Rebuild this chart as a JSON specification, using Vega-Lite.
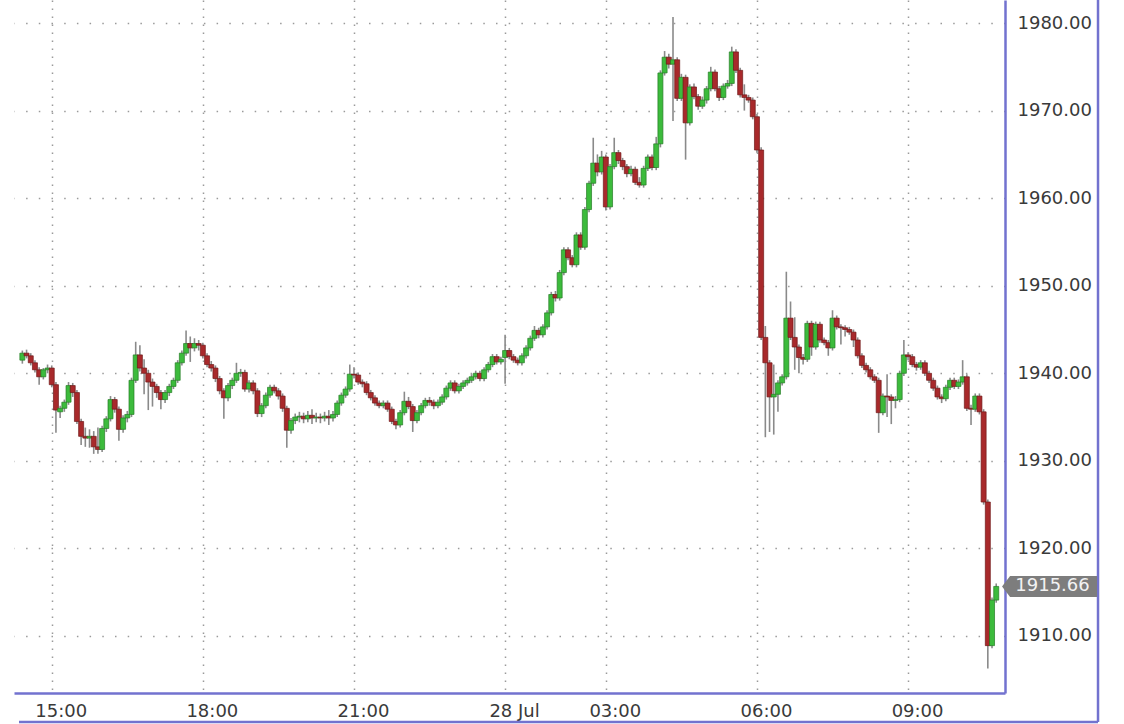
{
  "$schema": "https://vega.github.io/schema/vega-lite/v6.json",
  "width": 991,
  "height": 693,
  "autosize": {"type": "none"},
  "padding": {"left": 14, "top": 0, "right": 119, "bottom": 31},
  "background": "white",
  "config": {
    "view": {"stroke": null},
    "axis": {"labelFont": "DejaVu Sans", "labelFontSize": 18, "labelColor": "#3a3a3a", "title": null}
  },
  "data": {"values": [
    {"i":-7,"t":"14:25","o":1941.5,"h":1942.6,"l":1941.1,"c":1942.3},
    {"i":-6,"t":"14:30","o":1942.3,"h":1942.7,"l":1941.7,"c":1942.0},
    {"i":-5,"t":"14:35","o":1942.0,"h":1942.3,"l":1940.9,"c":1941.2},
    {"i":-4,"t":"14:40","o":1941.2,"h":1941.5,"l":1940.1,"c":1940.4},
    {"i":-3,"t":"14:45","o":1940.4,"h":1940.7,"l":1938.7,"c":1939.6},
    {"i":-2,"t":"14:50","o":1939.6,"h":1940.6,"l":1939.3,"c":1940.4},
    {"i":-1,"t":"14:55","o":1940.4,"h":1941.0,"l":1940.0,"c":1940.6},
    {"i":0,"t":"15:00","o":1940.6,"h":1940.9,"l":1938.4,"c":1938.7},
    {"i":1,"t":"15:05","o":1938.7,"h":1939.0,"l":1933.2,"c":1935.8},
    {"i":2,"t":"15:10","o":1935.6,"h":1936.3,"l":1934.9,"c":1936.0},
    {"i":3,"t":"15:15","o":1936.0,"h":1937.0,"l":1935.6,"c":1936.7},
    {"i":4,"t":"15:20","o":1936.7,"h":1939.0,"l":1936.4,"c":1938.6},
    {"i":5,"t":"15:25","o":1938.6,"h":1938.9,"l":1937.3,"c":1937.8},
    {"i":6,"t":"15:30","o":1937.8,"h":1938.1,"l":1934.2,"c":1934.5},
    {"i":7,"t":"15:35","o":1934.5,"h":1934.8,"l":1931.8,"c":1932.8},
    {"i":8,"t":"15:40","o":1932.8,"h":1933.8,"l":1931.6,"c":1932.6},
    {"i":9,"t":"15:45","o":1932.6,"h":1933.6,"l":1931.5,"c":1932.8},
    {"i":10,"t":"15:50","o":1932.8,"h":1933.4,"l":1930.8,"c":1931.6},
    {"i":11,"t":"15:55","o":1931.6,"h":1933.8,"l":1930.8,"c":1931.3},
    {"i":12,"t":"16:00","o":1931.3,"h":1934.0,"l":1931.0,"c":1933.7},
    {"i":13,"t":"16:05","o":1933.7,"h":1935.1,"l":1933.3,"c":1934.8},
    {"i":14,"t":"16:10","o":1934.8,"h":1937.4,"l":1934.5,"c":1937.0},
    {"i":15,"t":"16:15","o":1937.0,"h":1937.3,"l":1935.5,"c":1935.9},
    {"i":16,"t":"16:20","o":1935.9,"h":1936.2,"l":1932.3,"c":1933.6},
    {"i":17,"t":"16:25","o":1933.6,"h":1935.2,"l":1933.2,"c":1934.9},
    {"i":18,"t":"16:30","o":1934.9,"h":1935.7,"l":1934.4,"c":1935.3},
    {"i":19,"t":"16:35","o":1935.3,"h":1939.5,"l":1935.0,"c":1939.2},
    {"i":20,"t":"16:40","o":1939.2,"h":1943.6,"l":1938.9,"c":1942.1},
    {"i":21,"t":"16:45","o":1942.1,"h":1943.2,"l":1940.2,"c":1940.6},
    {"i":22,"t":"16:50","o":1940.6,"h":1941.6,"l":1937.6,"c":1940.0},
    {"i":23,"t":"16:55","o":1940.0,"h":1940.4,"l":1935.8,"c":1939.0},
    {"i":24,"t":"17:00","o":1939.0,"h":1939.4,"l":1936.2,"c":1938.5},
    {"i":25,"t":"17:05","o":1938.5,"h":1938.8,"l":1937.2,"c":1937.8},
    {"i":26,"t":"17:10","o":1937.8,"h":1938.1,"l":1935.9,"c":1937.0},
    {"i":27,"t":"17:15","o":1937.0,"h":1938.1,"l":1936.6,"c":1937.8},
    {"i":28,"t":"17:20","o":1937.8,"h":1938.8,"l":1937.4,"c":1938.5},
    {"i":29,"t":"17:25","o":1938.5,"h":1939.5,"l":1938.2,"c":1939.2},
    {"i":30,"t":"17:30","o":1939.2,"h":1941.5,"l":1938.9,"c":1941.2},
    {"i":31,"t":"17:35","o":1941.2,"h":1942.6,"l":1940.9,"c":1942.3},
    {"i":32,"t":"17:40","o":1942.3,"h":1944.9,"l":1942.0,"c":1943.4},
    {"i":33,"t":"17:45","o":1943.4,"h":1944.2,"l":1941.3,"c":1942.9},
    {"i":34,"t":"17:50","o":1942.9,"h":1944.0,"l":1942.5,"c":1943.4},
    {"i":35,"t":"17:55","o":1943.4,"h":1943.8,"l":1942.6,"c":1943.2},
    {"i":36,"t":"18:00","o":1943.2,"h":1943.5,"l":1941.7,"c":1942.0},
    {"i":37,"t":"18:05","o":1942.0,"h":1942.3,"l":1940.7,"c":1941.0},
    {"i":38,"t":"18:10","o":1941.0,"h":1941.4,"l":1940.2,"c":1940.6},
    {"i":39,"t":"18:15","o":1940.6,"h":1940.9,"l":1939.0,"c":1939.4},
    {"i":40,"t":"18:20","o":1939.4,"h":1939.7,"l":1937.6,"c":1938.0},
    {"i":41,"t":"18:25","o":1938.0,"h":1938.3,"l":1934.8,"c":1937.2},
    {"i":42,"t":"18:30","o":1937.2,"h":1938.9,"l":1936.8,"c":1938.6},
    {"i":43,"t":"18:35","o":1938.6,"h":1939.5,"l":1938.2,"c":1939.2},
    {"i":44,"t":"18:40","o":1939.2,"h":1941.2,"l":1938.9,"c":1940.0},
    {"i":45,"t":"18:45","o":1940.0,"h":1940.5,"l":1939.6,"c":1940.1},
    {"i":46,"t":"18:50","o":1940.1,"h":1940.4,"l":1937.9,"c":1938.2},
    {"i":47,"t":"18:55","o":1938.2,"h":1939.2,"l":1937.8,"c":1938.9},
    {"i":48,"t":"19:00","o":1938.9,"h":1939.2,"l":1937.6,"c":1938.0},
    {"i":49,"t":"19:05","o":1938.0,"h":1938.3,"l":1935.0,"c":1935.4},
    {"i":50,"t":"19:10","o":1935.4,"h":1936.6,"l":1935.0,"c":1936.3},
    {"i":51,"t":"19:15","o":1936.3,"h":1937.8,"l":1936.0,"c":1937.5},
    {"i":52,"t":"19:20","o":1937.5,"h":1938.7,"l":1937.2,"c":1938.4},
    {"i":53,"t":"19:25","o":1938.4,"h":1938.7,"l":1937.7,"c":1938.0},
    {"i":54,"t":"19:30","o":1938.0,"h":1938.3,"l":1937.0,"c":1937.4},
    {"i":55,"t":"19:35","o":1937.4,"h":1937.7,"l":1935.6,"c":1936.0},
    {"i":56,"t":"19:40","o":1936.0,"h":1936.3,"l":1931.5,"c":1933.5},
    {"i":57,"t":"19:45","o":1933.5,"h":1934.9,"l":1933.1,"c":1934.6},
    {"i":58,"t":"19:50","o":1934.6,"h":1935.4,"l":1934.2,"c":1935.0},
    {"i":59,"t":"19:55","o":1935.0,"h":1935.6,"l":1934.4,"c":1935.1},
    {"i":60,"t":"20:00","o":1935.1,"h":1935.5,"l":1934.3,"c":1934.8},
    {"i":61,"t":"20:05","o":1934.8,"h":1935.7,"l":1934.4,"c":1935.2},
    {"i":62,"t":"20:10","o":1935.2,"h":1935.9,"l":1934.2,"c":1934.9},
    {"i":63,"t":"20:15","o":1934.9,"h":1935.5,"l":1934.4,"c":1935.0},
    {"i":64,"t":"20:20","o":1935.0,"h":1935.4,"l":1934.3,"c":1934.9},
    {"i":65,"t":"20:25","o":1934.9,"h":1935.6,"l":1934.5,"c":1935.1},
    {"i":66,"t":"20:30","o":1935.1,"h":1935.8,"l":1934.1,"c":1934.9},
    {"i":67,"t":"20:35","o":1934.9,"h":1935.7,"l":1934.5,"c":1935.3},
    {"i":68,"t":"20:40","o":1935.3,"h":1936.9,"l":1935.0,"c":1936.6},
    {"i":69,"t":"20:45","o":1936.6,"h":1937.8,"l":1936.3,"c":1937.5},
    {"i":70,"t":"20:50","o":1937.5,"h":1938.5,"l":1937.2,"c":1938.2},
    {"i":71,"t":"20:55","o":1938.2,"h":1941.0,"l":1937.9,"c":1939.9},
    {"i":72,"t":"21:00","o":1939.9,"h":1940.7,"l":1939.4,"c":1939.8},
    {"i":73,"t":"21:05","o":1939.8,"h":1940.1,"l":1938.7,"c":1939.0},
    {"i":74,"t":"21:10","o":1939.0,"h":1939.3,"l":1938.4,"c":1938.8},
    {"i":75,"t":"21:15","o":1938.8,"h":1939.1,"l":1937.5,"c":1937.8},
    {"i":76,"t":"21:20","o":1937.8,"h":1938.1,"l":1936.9,"c":1937.2},
    {"i":77,"t":"21:25","o":1937.2,"h":1937.5,"l":1936.3,"c":1936.6},
    {"i":78,"t":"21:30","o":1936.6,"h":1936.9,"l":1936.0,"c":1936.3},
    {"i":79,"t":"21:35","o":1936.3,"h":1936.9,"l":1936.0,"c":1936.6},
    {"i":80,"t":"21:40","o":1936.6,"h":1936.9,"l":1935.6,"c":1935.9},
    {"i":81,"t":"21:45","o":1935.9,"h":1936.2,"l":1934.2,"c":1934.5},
    {"i":82,"t":"21:50","o":1934.5,"h":1934.8,"l":1933.6,"c":1934.1},
    {"i":83,"t":"21:55","o":1934.1,"h":1935.8,"l":1933.8,"c":1935.5},
    {"i":84,"t":"22:00","o":1935.5,"h":1937.9,"l":1935.2,"c":1936.8},
    {"i":85,"t":"22:05","o":1936.8,"h":1937.3,"l":1935.9,"c":1936.2},
    {"i":86,"t":"22:10","o":1936.2,"h":1936.5,"l":1933.3,"c":1934.6},
    {"i":87,"t":"22:15","o":1934.6,"h":1935.8,"l":1934.3,"c":1935.5},
    {"i":88,"t":"22:20","o":1935.5,"h":1936.6,"l":1935.2,"c":1936.3},
    {"i":89,"t":"22:25","o":1936.3,"h":1937.2,"l":1936.0,"c":1936.9},
    {"i":90,"t":"22:30","o":1936.9,"h":1937.3,"l":1936.3,"c":1936.7},
    {"i":91,"t":"22:35","o":1936.7,"h":1937.0,"l":1935.9,"c":1936.3},
    {"i":92,"t":"22:40","o":1936.3,"h":1937.0,"l":1936.0,"c":1936.7},
    {"i":93,"t":"22:45","o":1936.7,"h":1937.6,"l":1936.4,"c":1937.3},
    {"i":94,"t":"22:50","o":1937.3,"h":1938.6,"l":1937.0,"c":1938.3},
    {"i":95,"t":"22:55","o":1938.3,"h":1939.2,"l":1938.0,"c":1938.9},
    {"i":96,"t":"23:00","o":1938.9,"h":1939.2,"l":1937.7,"c":1938.0},
    {"i":97,"t":"23:05","o":1938.0,"h":1938.8,"l":1937.7,"c":1938.5},
    {"i":98,"t":"23:10","o":1938.5,"h":1939.2,"l":1938.2,"c":1938.9},
    {"i":99,"t":"23:15","o":1938.9,"h":1939.5,"l":1938.6,"c":1939.2},
    {"i":100,"t":"23:20","o":1939.2,"h":1939.9,"l":1938.9,"c":1939.6},
    {"i":101,"t":"23:25","o":1939.6,"h":1940.3,"l":1939.3,"c":1940.0},
    {"i":102,"t":"23:30","o":1940.0,"h":1940.3,"l":1939.1,"c":1939.4},
    {"i":103,"t":"23:35","o":1939.4,"h":1940.7,"l":1939.1,"c":1940.4},
    {"i":104,"t":"23:40","o":1940.4,"h":1941.3,"l":1940.1,"c":1941.0},
    {"i":105,"t":"23:45","o":1941.0,"h":1942.2,"l":1940.7,"c":1941.9},
    {"i":106,"t":"23:50","o":1941.9,"h":1942.2,"l":1941.0,"c":1941.3},
    {"i":107,"t":"23:55","o":1941.3,"h":1941.9,"l":1941.0,"c":1941.6},
    {"i":108,"t":"01:00","o":1941.8,"h":1944.4,"l":1938.8,"c":1942.6},
    {"i":109,"t":"01:05","o":1942.6,"h":1942.9,"l":1941.6,"c":1941.9},
    {"i":110,"t":"01:10","o":1941.9,"h":1942.2,"l":1941.2,"c":1941.5},
    {"i":111,"t":"01:15","o":1941.5,"h":1941.8,"l":1940.9,"c":1941.2},
    {"i":112,"t":"01:20","o":1941.2,"h":1942.3,"l":1940.9,"c":1942.0},
    {"i":113,"t":"01:25","o":1942.0,"h":1943.2,"l":1941.7,"c":1942.9},
    {"i":114,"t":"01:30","o":1942.9,"h":1944.3,"l":1942.6,"c":1944.0},
    {"i":115,"t":"01:35","o":1944.0,"h":1945.4,"l":1943.7,"c":1944.9},
    {"i":116,"t":"01:40","o":1944.9,"h":1945.2,"l":1944.0,"c":1944.4},
    {"i":117,"t":"01:45","o":1944.4,"h":1945.6,"l":1944.1,"c":1945.3},
    {"i":118,"t":"01:50","o":1945.3,"h":1947.2,"l":1945.0,"c":1946.9},
    {"i":119,"t":"01:55","o":1946.9,"h":1949.3,"l":1946.6,"c":1949.0},
    {"i":120,"t":"02:00","o":1949.0,"h":1949.4,"l":1948.2,"c":1948.6},
    {"i":121,"t":"02:05","o":1948.6,"h":1951.8,"l":1948.3,"c":1951.5},
    {"i":122,"t":"02:10","o":1951.5,"h":1954.4,"l":1951.2,"c":1954.1},
    {"i":123,"t":"02:15","o":1954.1,"h":1954.4,"l":1952.9,"c":1953.2},
    {"i":124,"t":"02:20","o":1953.2,"h":1953.5,"l":1952.1,"c":1952.4},
    {"i":125,"t":"02:25","o":1952.4,"h":1956.1,"l":1952.1,"c":1955.8},
    {"i":126,"t":"02:30","o":1955.8,"h":1956.1,"l":1954.1,"c":1954.4},
    {"i":127,"t":"02:35","o":1954.4,"h":1959.0,"l":1954.1,"c":1958.7},
    {"i":128,"t":"02:40","o":1958.7,"h":1962.0,"l":1958.4,"c":1961.7},
    {"i":129,"t":"02:45","o":1961.7,"h":1966.9,"l":1961.4,"c":1964.0},
    {"i":130,"t":"02:50","o":1964.0,"h":1965.0,"l":1962.5,"c":1963.0},
    {"i":131,"t":"02:55","o":1963.0,"h":1965.4,"l":1962.7,"c":1964.7},
    {"i":132,"t":"03:00","o":1964.7,"h":1965.0,"l":1958.6,"c":1959.0},
    {"i":133,"t":"03:05","o":1959.0,"h":1963.9,"l":1958.7,"c":1963.6},
    {"i":134,"t":"03:10","o":1963.6,"h":1966.9,"l":1963.3,"c":1965.2},
    {"i":135,"t":"03:15","o":1965.2,"h":1965.5,"l":1963.9,"c":1964.3},
    {"i":136,"t":"03:20","o":1964.3,"h":1964.6,"l":1963.2,"c":1963.6},
    {"i":137,"t":"03:25","o":1963.6,"h":1963.9,"l":1962.4,"c":1962.8},
    {"i":138,"t":"03:30","o":1962.8,"h":1963.7,"l":1962.5,"c":1963.3},
    {"i":139,"t":"03:35","o":1963.3,"h":1963.6,"l":1961.5,"c":1961.8},
    {"i":140,"t":"03:40","o":1961.8,"h":1962.4,"l":1961.2,"c":1961.5},
    {"i":141,"t":"03:45","o":1961.5,"h":1963.7,"l":1961.2,"c":1963.4},
    {"i":142,"t":"03:50","o":1963.4,"h":1965.0,"l":1963.1,"c":1964.7},
    {"i":143,"t":"03:55","o":1964.7,"h":1965.0,"l":1963.2,"c":1963.5},
    {"i":144,"t":"04:00","o":1963.5,"h":1967.0,"l":1963.2,"c":1966.2},
    {"i":145,"t":"04:05","o":1966.2,"h":1974.6,"l":1965.8,"c":1974.3},
    {"i":146,"t":"04:10","o":1974.3,"h":1976.8,"l":1974.0,"c":1976.1},
    {"i":147,"t":"04:15","o":1976.1,"h":1976.5,"l":1974.8,"c":1975.3},
    {"i":148,"t":"04:20","o":1975.3,"h":1980.7,"l":1968.8,"c":1975.8},
    {"i":149,"t":"04:25","o":1975.8,"h":1976.1,"l":1971.1,"c":1971.4},
    {"i":150,"t":"04:30","o":1971.4,"h":1974.2,"l":1971.1,"c":1973.8},
    {"i":151,"t":"04:35","o":1973.8,"h":1974.1,"l":1964.4,"c":1968.6},
    {"i":152,"t":"04:40","o":1968.6,"h":1973.0,"l":1968.3,"c":1972.7},
    {"i":153,"t":"04:45","o":1972.7,"h":1973.1,"l":1971.3,"c":1971.6},
    {"i":154,"t":"04:50","o":1971.6,"h":1971.9,"l":1970.1,"c":1970.5},
    {"i":155,"t":"04:55","o":1970.5,"h":1971.6,"l":1970.2,"c":1971.2},
    {"i":156,"t":"05:00","o":1971.2,"h":1972.8,"l":1970.8,"c":1972.5},
    {"i":157,"t":"05:05","o":1972.5,"h":1975.0,"l":1972.2,"c":1974.4},
    {"i":158,"t":"05:10","o":1974.4,"h":1974.7,"l":1972.2,"c":1972.5},
    {"i":159,"t":"05:15","o":1972.5,"h":1972.8,"l":1971.1,"c":1971.5},
    {"i":160,"t":"05:20","o":1971.5,"h":1973.1,"l":1971.2,"c":1972.8},
    {"i":161,"t":"05:25","o":1972.8,"h":1973.5,"l":1972.5,"c":1973.1},
    {"i":162,"t":"05:30","o":1973.1,"h":1977.3,"l":1972.8,"c":1976.7},
    {"i":163,"t":"05:35","o":1976.7,"h":1977.0,"l":1974.3,"c":1974.6},
    {"i":164,"t":"05:40","o":1974.6,"h":1974.9,"l":1971.5,"c":1971.8},
    {"i":165,"t":"05:45","o":1971.8,"h":1973.0,"l":1970.0,"c":1971.5},
    {"i":166,"t":"05:50","o":1971.5,"h":1971.8,"l":1970.9,"c":1971.2},
    {"i":167,"t":"05:55","o":1971.2,"h":1971.5,"l":1969.0,"c":1969.3},
    {"i":168,"t":"06:00","o":1969.3,"h":1969.6,"l":1965.2,"c":1965.5},
    {"i":169,"t":"06:05","o":1965.5,"h":1965.8,"l":1943.8,"c":1944.1},
    {"i":170,"t":"06:10","o":1944.1,"h":1945.4,"l":1932.7,"c":1941.2},
    {"i":171,"t":"06:15","o":1941.2,"h":1941.5,"l":1933.3,"c":1937.3},
    {"i":172,"t":"06:20","o":1937.3,"h":1941.0,"l":1933.0,"c":1937.6},
    {"i":173,"t":"06:25","o":1937.6,"h":1939.2,"l":1935.6,"c":1938.9},
    {"i":174,"t":"06:30","o":1938.9,"h":1939.9,"l":1938.6,"c":1939.6},
    {"i":175,"t":"06:35","o":1939.6,"h":1951.6,"l":1939.3,"c":1946.3},
    {"i":176,"t":"06:40","o":1946.3,"h":1948.2,"l":1943.8,"c":1944.1},
    {"i":177,"t":"06:45","o":1944.1,"h":1946.4,"l":1940.4,"c":1943.0},
    {"i":178,"t":"06:50","o":1943.0,"h":1943.3,"l":1940.0,"c":1941.8},
    {"i":179,"t":"06:55","o":1941.8,"h":1942.2,"l":1941.0,"c":1941.6},
    {"i":180,"t":"07:00","o":1941.6,"h":1946.0,"l":1941.3,"c":1945.7},
    {"i":181,"t":"07:05","o":1945.7,"h":1946.0,"l":1942.0,"c":1943.0},
    {"i":182,"t":"07:10","o":1943.0,"h":1945.9,"l":1942.7,"c":1945.6},
    {"i":183,"t":"07:15","o":1945.6,"h":1945.9,"l":1943.5,"c":1943.8},
    {"i":184,"t":"07:20","o":1943.8,"h":1944.1,"l":1943.2,"c":1943.5},
    {"i":185,"t":"07:25","o":1943.5,"h":1943.8,"l":1942.0,"c":1942.9},
    {"i":186,"t":"07:30","o":1942.9,"h":1947.2,"l":1942.6,"c":1946.3},
    {"i":187,"t":"07:35","o":1946.3,"h":1946.6,"l":1945.0,"c":1945.3},
    {"i":188,"t":"07:40","o":1945.3,"h":1945.6,"l":1943.3,"c":1945.2},
    {"i":189,"t":"07:45","o":1945.2,"h":1945.5,"l":1944.2,"c":1945.0},
    {"i":190,"t":"07:50","o":1945.0,"h":1945.3,"l":1944.4,"c":1944.7},
    {"i":191,"t":"07:55","o":1944.7,"h":1945.0,"l":1943.0,"c":1943.8},
    {"i":192,"t":"08:00","o":1943.8,"h":1944.1,"l":1941.7,"c":1942.0},
    {"i":193,"t":"08:05","o":1942.0,"h":1942.3,"l":1940.6,"c":1940.9},
    {"i":194,"t":"08:10","o":1940.9,"h":1941.2,"l":1940.1,"c":1940.4},
    {"i":195,"t":"08:15","o":1940.4,"h":1940.7,"l":1939.3,"c":1939.6},
    {"i":196,"t":"08:20","o":1939.6,"h":1939.9,"l":1938.9,"c":1939.2},
    {"i":197,"t":"08:25","o":1939.2,"h":1939.5,"l":1933.2,"c":1935.5},
    {"i":198,"t":"08:30","o":1935.5,"h":1937.7,"l":1935.2,"c":1937.4},
    {"i":199,"t":"08:35","o":1937.4,"h":1939.9,"l":1935.0,"c":1937.3},
    {"i":200,"t":"08:40","o":1937.3,"h":1937.6,"l":1934.2,"c":1936.9},
    {"i":201,"t":"08:45","o":1936.9,"h":1937.4,"l":1936.0,"c":1937.0},
    {"i":202,"t":"08:50","o":1937.0,"h":1940.3,"l":1936.7,"c":1940.0},
    {"i":203,"t":"08:55","o":1940.0,"h":1943.8,"l":1939.7,"c":1942.1},
    {"i":204,"t":"09:00","o":1942.1,"h":1942.4,"l":1941.5,"c":1941.9},
    {"i":205,"t":"09:05","o":1941.9,"h":1942.2,"l":1940.7,"c":1941.0},
    {"i":206,"t":"09:10","o":1941.0,"h":1941.3,"l":1940.3,"c":1940.7},
    {"i":207,"t":"09:15","o":1940.7,"h":1941.5,"l":1940.4,"c":1941.2},
    {"i":208,"t":"09:20","o":1941.2,"h":1941.5,"l":1939.7,"c":1940.0},
    {"i":209,"t":"09:25","o":1940.0,"h":1940.3,"l":1938.9,"c":1939.2},
    {"i":210,"t":"09:30","o":1939.2,"h":1939.5,"l":1938.0,"c":1938.3},
    {"i":211,"t":"09:35","o":1938.3,"h":1938.6,"l":1937.0,"c":1937.3},
    {"i":212,"t":"09:40","o":1937.3,"h":1937.6,"l":1936.6,"c":1937.1},
    {"i":213,"t":"09:45","o":1937.1,"h":1938.7,"l":1936.8,"c":1938.4},
    {"i":214,"t":"09:50","o":1938.4,"h":1939.5,"l":1938.1,"c":1939.2},
    {"i":215,"t":"09:55","o":1939.2,"h":1939.5,"l":1938.2,"c":1938.5},
    {"i":216,"t":"10:00","o":1938.5,"h":1939.3,"l":1938.2,"c":1939.0},
    {"i":217,"t":"10:05","o":1939.0,"h":1941.5,"l":1938.7,"c":1939.6},
    {"i":218,"t":"10:10","o":1939.6,"h":1939.9,"l":1935.7,"c":1936.0},
    {"i":219,"t":"10:15","o":1936.0,"h":1936.4,"l":1934.1,"c":1935.9},
    {"i":220,"t":"10:20","o":1935.9,"h":1937.7,"l":1935.6,"c":1937.4},
    {"i":221,"t":"10:25","o":1937.4,"h":1937.7,"l":1935.3,"c":1935.6},
    {"i":222,"t":"10:30","o":1935.6,"h":1935.9,"l":1925.0,"c":1925.3},
    {"i":223,"t":"10:35","o":1925.3,"h":1925.6,"l":1906.3,"c":1908.9},
    {"i":224,"t":"10:40","o":1908.9,"h":1914.4,"l":1908.6,"c":1914.1},
    {"i":225,"t":"10:45","o":1914.1,"h":1916.0,"l":1913.8,"c":1915.66}
  ]},
  "layer": [
    {
      "mark": {"type": "rule", "color": "#8a8a8a", "strokeWidth": 1.6},
      "encoding": {
        "x": {
          "field": "i",
          "type": "quantitative",
          "scale": {"domain": [-7.8, 225.9], "nice": false, "zero": false},
          "axis": {
            "orient": "bottom",
            "values": [0, 36, 72, 108, 132, 168, 204],
            "labelExpr": "datum.value == 0 ? '15:00' : datum.value == 36 ? '18:00' : datum.value == 72 ? '21:00' : datum.value == 108 ? '28 Jul' : datum.value == 132 ? '03:00' : datum.value == 168 ? '06:00' : '09:00'",
            "grid": true,
            "gridColor": "#9a9a9a",
            "gridWidth": 1.5,
            "gridDash": [1.5, 6.5],
            "domain": true,
            "domainColor": "#7272cf",
            "domainWidth": 2.5,
            "ticks": false,
            "tickSize": 0,
            "labelPadding": 9,
            "labelOffset": 9,
            "labelFlush": false,
            "labelOverlap": false
          }
        },
        "y": {
          "field": "l",
          "type": "quantitative",
          "scale": {"domain": [1903.49, 1982.63], "nice": false, "zero": false},
          "axis": {
            "orient": "right",
            "values": [1910, 1920, 1930, 1940, 1950, 1960, 1970, 1980],
            "format": ".2f",
            "grid": true,
            "gridColor": "#9a9a9a",
            "gridWidth": 1.5,
            "gridDash": [1.5, 11.2],
            "domain": true,
            "domainColor": "#7272cf",
            "domainWidth": 2.5,
            "ticks": false,
            "tickSize": 0,
            "labelPadding": 12,
            "labelFlush": false,
            "labelOverlap": false
          }
        },
        "y2": {"field": "h"}
      }
    },
    {
      "mark": {"type": "bar", "size": 5, "strokeWidth": 0.7},
      "encoding": {
        "x": {"field": "i", "type": "quantitative", "scale": {"domain": [-7.8, 225.9], "nice": false, "zero": false}},
        "y": {"field": "o", "type": "quantitative", "scale": {"domain": [1903.49, 1982.63], "nice": false, "zero": false}},
        "y2": {"field": "c"},
        "fill": {"condition": {"test": "datum.c >= datum.o", "value": "#3cbb3c"}, "value": "#a8292b"},
        "stroke": {"condition": {"test": "datum.c >= datum.o", "value": "#257c25"}, "value": "#701818"}
      }
    },
    {
      "data": {"values": [{"edge": "bottom"}]},
      "mark": {"type": "rule", "color": "#7272cf", "strokeWidth": 2.5},
      "encoding": {
        "x": {"datum": -7.8, "type": "quantitative", "scale": {"domain": [-7.8, 225.9], "nice": false, "zero": false}},
        "x2": {"datum": 249.25},
        "y": {"datum": 1900.18, "type": "quantitative", "scale": {"domain": [1903.49, 1982.63], "nice": false, "zero": false}}
      }
    },
    {
      "data": {"values": [{"edge": "right"}]},
      "mark": {"type": "rule", "color": "#7272cf", "strokeWidth": 2.5},
      "encoding": {
        "x": {"datum": 249.25, "type": "quantitative", "scale": {"domain": [-7.8, 225.9], "nice": false, "zero": false}},
        "y": {"datum": 1900.18, "type": "quantitative", "scale": {"domain": [1903.49, 1982.63], "nice": false, "zero": false}},
        "y2": {"datum": 1984}
      }
    },
    {
      "data": {"values": [{"last": 1915.66}]},
      "mark": {"type": "point", "shape": "M -1 0 L -0.83 -0.22 L 1 -0.22 L 1 0.22 L -0.83 0.22 Z", "size": 9025, "filled": true, "color": "#7d7d7d", "opacity": 1, "strokeWidth": 0},
      "encoding": {
        "x": {"datum": 237.7, "type": "quantitative", "scale": {"domain": [-7.8, 225.9], "nice": false, "zero": false}},
        "y": {"field": "last", "type": "quantitative", "scale": {"domain": [1903.49, 1982.63], "nice": false, "zero": false}}
      }
    },
    {
      "data": {"values": [{"last": 1915.66}]},
      "mark": {"type": "text", "font": "DejaVu Sans", "fontSize": 18, "color": "#f2f2f2", "align": "center", "baseline": "middle", "dx": 3},
      "encoding": {
        "x": {"datum": 237.7, "type": "quantitative", "scale": {"domain": [-7.8, 225.9], "nice": false, "zero": false}},
        "y": {"field": "last", "type": "quantitative", "scale": {"domain": [1903.49, 1982.63], "nice": false, "zero": false}},
        "text": {"field": "last", "type": "quantitative", "format": ".2f"}
      }
    }
  ]
}
